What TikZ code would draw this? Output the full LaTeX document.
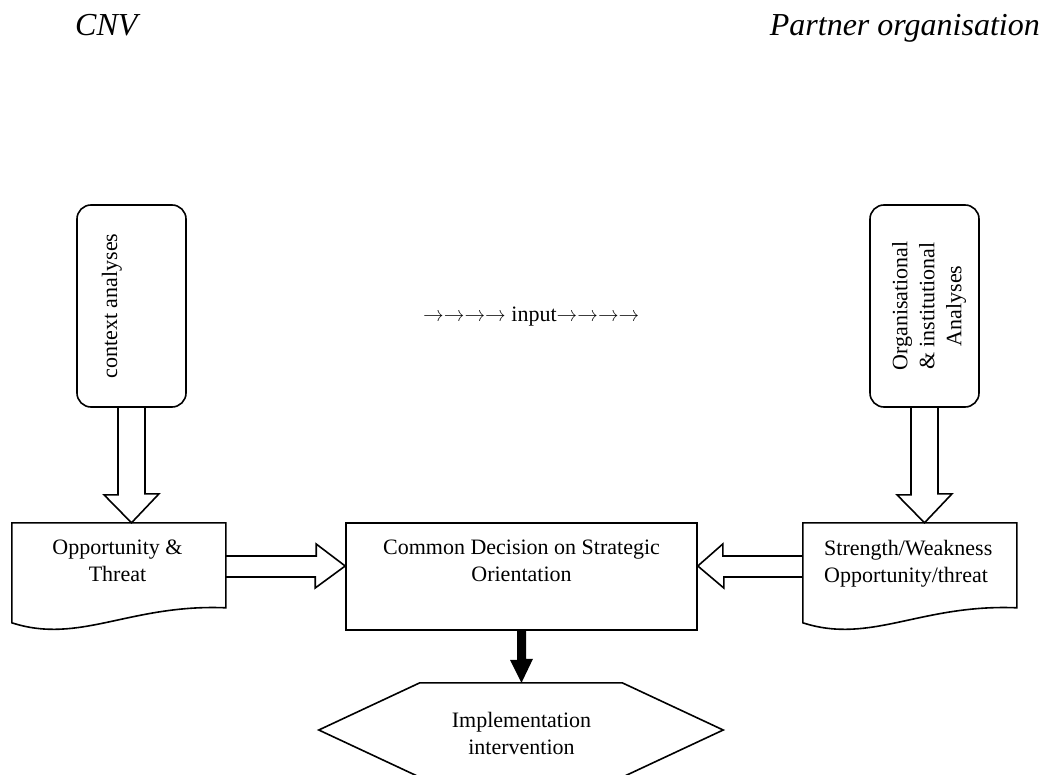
\documentclass[tikz,border=0pt]{standalone}
\usepackage{fontspec}
\setmainfont{Liberation Serif}
\newfontfamily\arrowfont{Latin Modern Roman}
\usetikzlibrary{calc}
\begin{document}
\begin{tikzpicture}[x=1pt,y=-1pt,
  ln/.style={line width=1.6pt, line join=miter},
  txt/.style={font=\fontsize{22}{27}\selectfont, inner sep=0pt},
  head/.style={font=\fontsize{32}{38}\selectfont\itshape, inner sep=0pt},
  boxr/.style={ln, draw, rounded corners=14pt, minimum width=109pt, minimum height=202pt, inner sep=0pt},
  docbox/.style={minimum width=214pt, minimum height=100pt, inner sep=0pt}]
\useasboundingbox (0,0) rectangle (1044,775);
\fill[white] (0,0) rectangle (1044,775);

% headings
\node[head, anchor=base west] (cnv) at (75,36) {CNV};
\node[head, anchor=base east] (partner) at (1040,36) {Partner organisation};

% top boxes
\node[boxr] (ctx) at (131.5,306) {};
\node[txt, rotate=90, anchor=base] (ctxt) at (117,306) {context analyses};
\node[boxr] (org) at (924.5,306) {};
\node[txt, rotate=90, align=center] (orgt) at (929,306) {Organisational\\ \& institutional\\ Analyses};

% input text
\node[txt, anchor=base west] (input) at (423,322) {{\arrowfont →→→→} input{\arrowfont →→→→}};

% documents
\node[docbox] (opp) at (119,573) {};
\draw[ln, shift={(opp.north west)}] (0,0) -- (214,0) -- (214,85) .. controls (118,81) and (68,122) .. (0,100) -- cycle;
\node[txt, align=center, anchor=north] (oppt) at (117.5,540) {Opportunity \&\\Threat};

\node[docbox] (sw) at (910,573) {};
\draw[ln, shift={(sw.north west)}] (0,0) -- (214,0) -- (214,85) .. controls (118,81) and (68,122) .. (0,100) -- cycle;
\node[txt, align=left, anchor=north west] (swt) at (824,540) {Strength/Weakness\\Opportunity/threat};

% central decision
\node[ln, draw, minimum width=351pt, minimum height=107pt, inner sep=0pt] (dec) at (521.5,576.5) {};
\node[txt, align=center, anchor=north] (dect) at (521.5,540) {Common Decision on Strategic\\Orientation};

% hexagon
\node[minimum width=404pt, minimum height=94pt, inner sep=0pt] (impl) at (521,730) {};
\draw[ln] (impl.west) -- ([xshift=101pt]impl.north west) -- ([xshift=-101pt]impl.north east) -- (impl.east)
  -- ([xshift=-101pt]impl.south east) -- ([xshift=101pt]impl.south west) -- cycle;
\node[txt, align=center, anchor=north] (implt) at (521.5,712) {Implementation\\intervention};

% hollow down arrows
\draw[ln] ([xshift=-13.5pt]ctx.south) -- ++(0,87) -- ++(-14,0) -- (ctx.south |- opp.north)
  -- ++(27.5,-29) -- ++(-14,0) -- ([xshift=13.5pt]ctx.south);
\draw[ln] ([xshift=-13.5pt]org.south) -- ++(0,87) -- ++(-14,0) -- (org.south |- sw.north)
  -- ++(27.5,-29) -- ++(-14,0) -- ([xshift=13.5pt]org.south);

% hollow horizontal arrows
\draw[ln] ($(opp.east)+(0,-17)$) -- ++(90,0) -- ++(0,-12) -- ($(dec.west)+(0,-10.5)$)
  -- ++(-30,22) -- ++(0,-11) -- ($(opp.east)+(0,4)$);
\draw[ln] ($(sw.west)+(0,-17)$) -- ++(-80,0) -- ++(0,-12) -- ($(dec.east)+(0,-10.5)$)
  -- ++(26,22) -- ++(0,-11) -- ($(sw.west)+(0,4)$);

% solid arrow
\fill ([xshift=-4.5pt]dec.south) -- ++(0,29) -- ++(-7,0) -- (dec.south |- impl.north)
  -- ++(11.5,-24) -- ++(-7,0) -- ([xshift=4.5pt]dec.south) -- cycle;
\end{tikzpicture}
\end{document}
